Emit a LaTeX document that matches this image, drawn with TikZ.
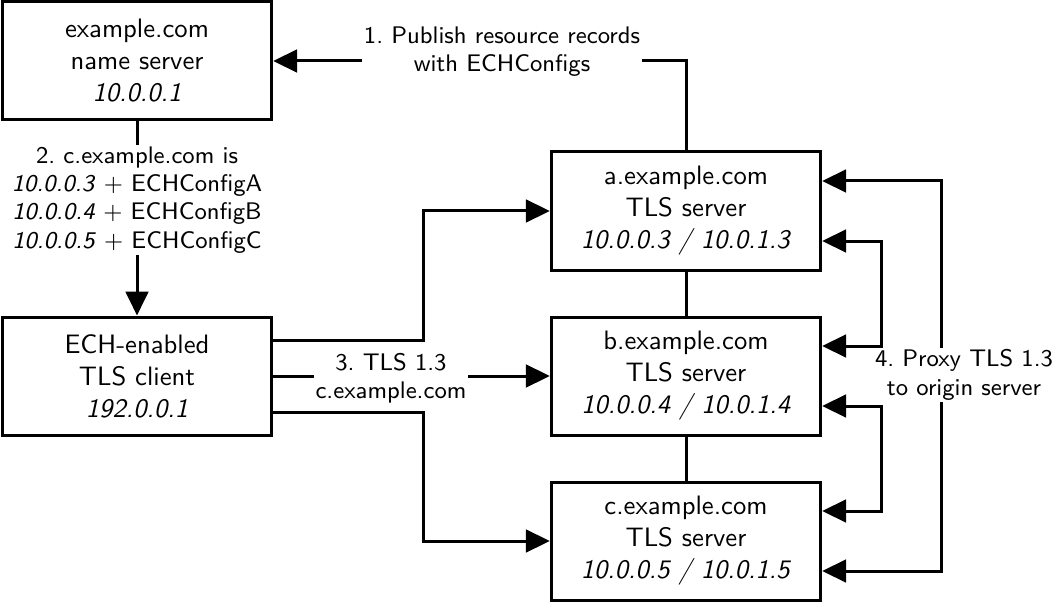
\documentclass[tikz,border=0pt]{standalone}
\usetikzlibrary{arrows.meta}
\renewcommand{\familydefault}{\sfdefault}
\begin{document}
\begin{tikzpicture}[x=0.375pt, y=-0.375pt,
    box/.style={draw, line width=1.125pt, minimum width=101pt, minimum height=44.25pt,
                align=center, inner sep=0pt, font=\fontsize{10}{12}\selectfont},
    lbl/.style={fill=white, align=center, inner sep=0.6pt, font=\fontsize{9}{10.6}\selectfont},
    link/.style={line width=1.125pt},
    arr/.style={link, -{Triangle[length=9pt, width=8.5pt]}},
    dblarr/.style={link, {Triangle[length=9pt, width=8.5pt]}-{Triangle[length=9pt, width=8.5pt]}}]
    \useasboundingbox (0,0) rectangle (1053,606);

    % Name server and client
    \node[box] (ns) at (137,61) {example.com\\name server\\\textit{10.0.0.1}};
    \node[box] (client) at (137,376) {ECH-enabled\\TLS client\\\textit{192.0.0.1}};

    % TLS servers
    \node[box] (a) at (686,211) {a.example.com\\TLS server\\\textit{10.0.0.3 / 10.0.1.3}};
    \node[box] (b) at (686,376) {b.example.com\\TLS server\\\textit{10.0.0.4 / 10.0.1.4}};
    \node[box] (c) at (686,541) {c.example.com\\TLS server\\\textit{10.0.0.5 / 10.0.1.5}};
    \draw[link] (a.south) -- (b.north);
    \draw[link] (b.south) -- (c.north);

    % 1. publish
    \draw[arr] (a.north) |- (ns.east);
    \node[lbl] (publish) at (502,52) {1.\ Publish resource records\\with ECHConfigs};

    % 2. lookup
    \draw[arr] (ns.south) -- (client.north);
    \node[lbl] (lookup) at (137,200) {2.\ c.example.com is\\
        \textit{10.0.0.3} $+$ ECHConfigA\\
        \textit{10.0.0.4} $+$ ECHConfigB\\
        \textit{10.0.0.5} $+$ ECHConfigC};

    % 3. connect
    \draw[arr] ([yshift=13.5pt]client.east) -- ++(150,0) |- (a.west);
    \draw[arr] (client.east) -- (b.west);
    \draw[arr] ([yshift=-13.5pt]client.east) -- ++(150,0) |- (c.west);
    \node[lbl] (connect) at (391,378) {3.\ TLS 1.3\\c.example.com};

    % 4. proxy
    \draw[dblarr] ([yshift=11.25pt]a.east) -- ++(119,0) |- ([yshift=-11.25pt]c.east);
    \draw[dblarr] ([yshift=-11.25pt]a.east) -- ++(59,0) |- ([yshift=11.25pt]b.east);
    \draw[dblarr] ([yshift=-11.25pt]b.east) -- ++(59,0) |- ([yshift=11.25pt]c.east);
    \node[lbl] (proxy) at (964,375) {4.\ Proxy TLS 1.3\\to origin server};

\end{tikzpicture}
\end{document}
